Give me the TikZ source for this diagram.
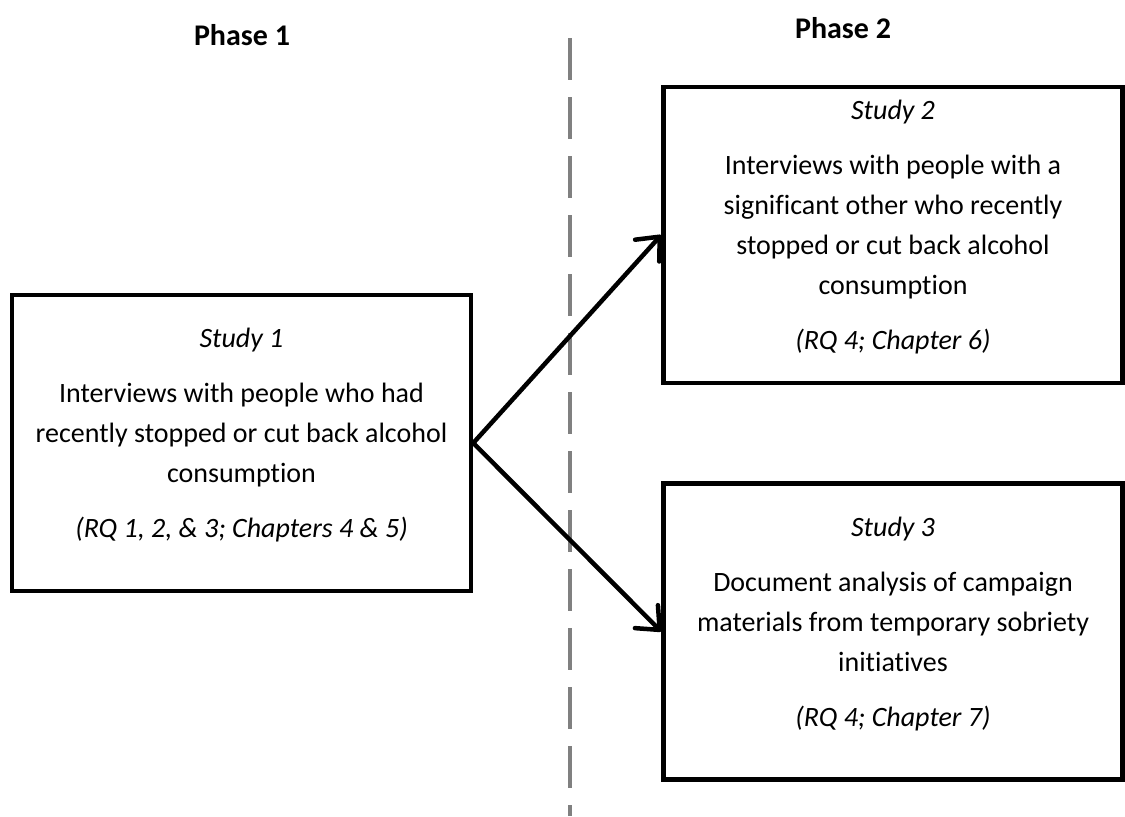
\documentclass[tikz,border=0pt]{standalone}
\usepackage{fontspec}
\setmainfont{Carlito}[Ligatures=NoCommon]
\usetikzlibrary{arrows.meta}

\begin{document}
\begin{tikzpicture}[x=0.4pt,y=-0.4pt,
  study/.style={draw,line width=1.8pt,minimum width=183.6pt,minimum height=118.4pt,
    text depth=8pt,align=center,font=\fontsize{11.2}{16}\selectfont},
  phase/.style={font=\fontsize{12}{14}\selectfont\bfseries}]
\useasboundingbox (0,0) rectangle (1125,816);

\node[phase] (phase1) at (242,35) {Phase 1};
\node[phase] (phase2) at (843,28) {Phase 2};

\coordinate (divtop) at (570,38);
\coordinate (divbot) at (570,816);
\draw[line width=1.8pt,gray,dash pattern=on 16.8pt off 6.8pt] (divtop) -- (divbot);

\node[study] (study1) at (241.5,443) {\textit{Study 1}\\[6pt]
  Interviews with people who had\\ recently stopped or cut back alcohol\\ consumption\\[6pt]
  \textit{(RQ 1, 2, \& 3; Chapters 4 \& 5)}};
\node[study] (study2) at (893,235) {\textit{Study 2}\\[6pt]
  Interviews with people with a\\ significant other who recently\\ stopped or cut back alcohol\\ consumption\\[6pt]
  \textit{(RQ 4; Chapter 6)}};
\node[study] (study3) at (893,631.5) {\textit{Study 3}\\[6pt]
  Document analysis of campaign\\ materials from temporary sobriety\\ initiatives\\[6pt]
  \textit{(RQ 4; Chapter 7)}};

\draw[line width=1.8pt,-{Straight Barb[length=7.5pt,width=13pt,round]}] (study1.east) -- (study2.west);
\draw[line width=1.8pt,-{Straight Barb[length=7.5pt,width=13pt,round]}] (study1.east) -- (study3.west);
\end{tikzpicture}
\end{document}
